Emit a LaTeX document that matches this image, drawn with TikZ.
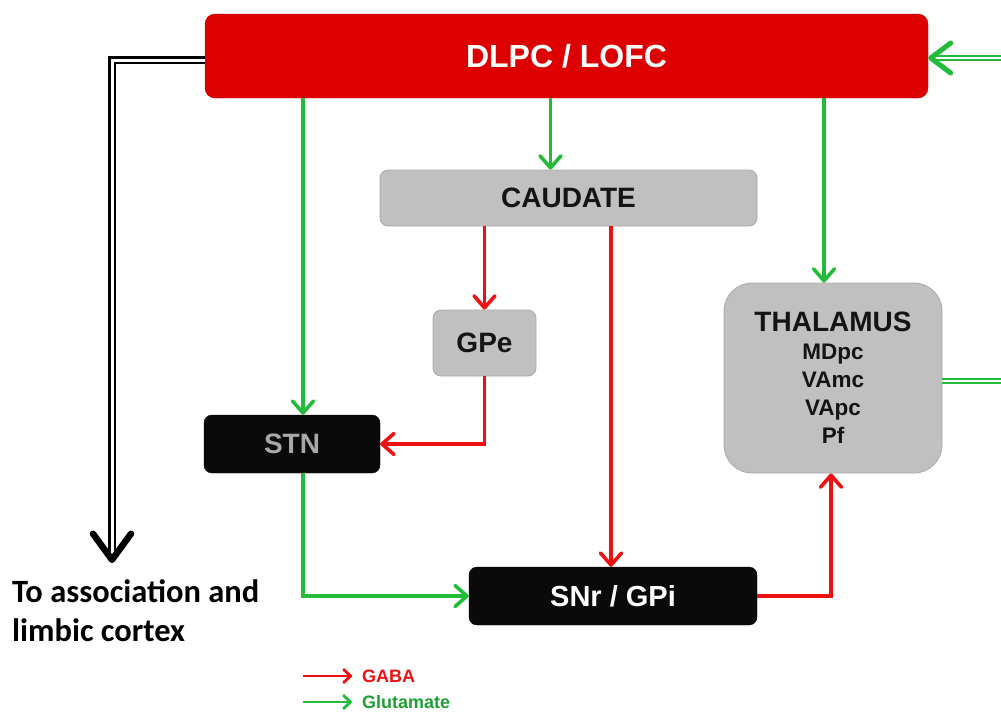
\documentclass[tikz,border=0pt]{standalone}
\usepackage{fontspec}
\setmainfont{Liberation Sans}
\newfontfamily\calib{Carlito}
\usetikzlibrary{arrows.meta}
\definecolor{dred}{HTML}{DD0000}
\definecolor{lred}{HTML}{EE1111}
\definecolor{lgreen}{HTML}{22BB3A}
\definecolor{boxgray}{HTML}{C0C0C0}
\definecolor{stngray}{HTML}{A8A8A8}
\begin{document}
\begin{tikzpicture}[x=1pt,y=-1pt,
  box/.style={rectangle, rounded corners=8pt, inner sep=0pt, font=\bfseries},
  graybox/.style={box, fill=boxgray, draw=boxgray!88!black, line width=0.8pt, text=black!92},
  blackbox/.style={box, fill=black!96, draw=black},
  tipsmall/.style={-{Straight Barb[length=12pt,width=21pt,round,line width=3.6pt]}},
  glu/.style={draw=lgreen, line width=3.4pt, tipsmall},
  gaba/.style={draw=lred, line width=3.4pt, tipsmall},
  dglu/.style={draw=lgreen, line width=2.2pt, double=white, double distance=2.4pt,
    -{Straight Barb[length=20pt,width=30pt,round,line width=5pt]}},
  dblack/.style={draw=black, line width=2.2pt, double=white, double distance=3pt,
    -{Straight Barb[length=26pt,width=38pt,round,line width=6.5pt]}},
  legend/.style={line width=2.8pt, -{Straight Barb[length=7pt,width=13pt,round,line width=2.8pt]}},
  legtext/.style={anchor=west, inner sep=0pt, font=\bfseries\fontsize{18}{20}\selectfont}
]
\useasboundingbox (0,0) rectangle (1001,713);

% nodes
\node[box, fill=dred, draw=dred!90!black, rounded corners=10pt, minimum width=723pt, minimum height=84pt,
  text=white, font=\bfseries\fontsize{32}{36}\selectfont] (dlpc) at (566.5,56) {DLPC / LOFC};
\node[graybox, minimum width=377pt, minimum height=56pt, font=\bfseries\fontsize{28}{32}\selectfont]
  (caud) at (568.5,198) {CAUDATE};
\node[graybox, minimum width=103pt, minimum height=66pt, font=\bfseries\fontsize{28}{32}\selectfont]
  (gpe) at (484.5,343) {GPe};
\node[graybox, rounded corners=28pt, minimum width=218pt, minimum height=190pt, align=center,
  font=\bfseries\fontsize{22.5}{28}\selectfont]
  (thal) at (833,378) {{\fontsize{28}{30}\selectfont THALAMUS}\\MDpc\\VAmc\\VApc\\Pf};
\node[blackbox, minimum width=176pt, minimum height=58pt, text=stngray,
  font=\bfseries\fontsize{28}{32}\selectfont] (stn) at (292,444) {STN};
\node[blackbox, minimum width=288pt, minimum height=58pt, text=white,
  font=\bfseries\fontsize{29}{32}\selectfont] (snr) at (613,596) {SNr / GPi};
\node[anchor=west, inner sep=0pt, align=left, font=\calib\bfseries\fontsize{32.5}{39}\selectfont]
  (assoctext) at (12,611) {To association and\\limbic cortex};

\coordinate (assoc) at (112,563);

% glutamate
\draw[glu] ([xshift=11pt]stn.north |- dlpc.south) -- ([xshift=11pt]stn.north);
\draw[glu] ([xshift=-18pt]caud.north |- dlpc.south) -- ([xshift=-18pt]caud.north);
\draw[glu] ([xshift=-9pt]thal.north |- dlpc.south) -- ([xshift=-9pt]thal.north);
\draw[glu] ([xshift=11pt]stn.south) |- (snr.west);

% gaba
\draw[gaba] (gpe.north |- caud.south) -- (gpe.north);
\draw[gaba] ([xshift=-2pt]snr.north |- caud.south) -- ([xshift=-2pt]snr.north);
\draw[gaba] (gpe.south) |- (stn.east);
\draw[gaba] (snr.east) -| ([xshift=-2pt]thal.south);

% double lines
\draw[dglu] ([yshift=-3pt]thal.east) -- ++(90,0) |- ([yshift=-2pt]dlpc.east);
\draw[dblack] ([yshift=-4pt]dlpc.west) -| (assoc);

% legend
\coordinate (l1a) at (303,676); \coordinate (l1b) at (352,676);
\coordinate (l2a) at (303,702); \coordinate (l2b) at (352,702);
\draw[legend, draw=lred] (l1a) -- (l1b);
\draw[legend, draw=lgreen] (l2a) -- (l2b);
\node[legtext, text=lred] (gabatext) at (362,676) {GABA};
\node[legtext, text=lgreen!85!black] (glutext) at (362,702) {Glutamate};
\end{tikzpicture}
\end{document}
